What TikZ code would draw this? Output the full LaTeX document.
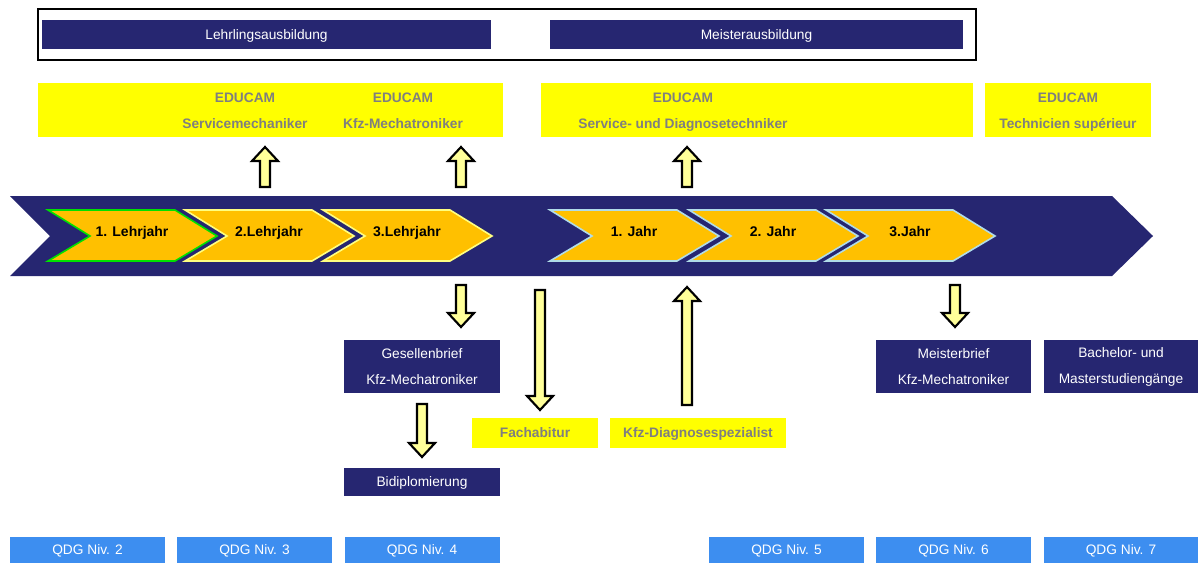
\documentclass[tikz,border=0pt]{standalone}
\usepackage{fontspec}
\setmainfont{Liberation Sans}
\usetikzlibrary{positioning}
\definecolor{navy}{HTML}{262671}
\definecolor{gelb}{HTML}{FFFF00}
\definecolor{jahrgold}{HTML}{FFC000}
\definecolor{pfeil}{HTML}{FFFF99}
\definecolor{qdgblau}{HTML}{3D8EF0}
\definecolor{grautext}{HTML}{7F7F7F}
\definecolor{randgelb}{HTML}{FFFF80}
\definecolor{randblau}{HTML}{B0DCE8}
\definecolor{randgruen}{HTML}{00E000}
\newcommand\blockarrow[3]{%
  \pgfmathsetmacro\hb{#3+ifthenelse(#2>#3,14,-14)}
  \draw[arrow block] (#1-5,#2) -- (#1+5,#2) -- (#1+5,\hb) -- (#1+13,\hb)
    -- (#1,#3) -- (#1-13,\hb) -- (#1-5,\hb) -- cycle;}
\newcommand\chevron[4]{%
  \draw[draw=#4,line width=1.2pt,fill=jahrgold] (#2,210) -- (#2+127,210)
    -- (#2+169,236) -- (#2+127,261) -- (#2,261) -- (#2+42,236) -- cycle;
  \node[year label] (#1) at (#2+84,231.5) {#3};}
\begin{document}
\begin{tikzpicture}[x=0.75pt,y=-0.75pt,font=\fontsize{10.3}{19.5}\selectfont,
    navy box/.style={rectangle,fill=navy,text=white,align=center,inner sep=0pt},
    yellow box/.style={rectangle,fill=gelb,inner sep=0pt},
    yellow text/.style={text=grautext,font=\fontsize{10.3}{19.5}\selectfont\bfseries,align=center},
    two lines/.style={text depth=2.5pt},
    one line/.style={text height=9.6pt,text depth=2.2pt},
    qdg box/.style={rectangle,fill=qdgblau,text=white,inner sep=0pt,one line,
                    minimum width=116.25pt,minimum height=19.5pt},
    arrow block/.style={draw=black,fill=pfeil,line width=1.6pt,line join=miter},
    year label/.style={font=\fontsize{10.5}{11}\selectfont\bfseries,text=black,one line}]
  \useasboundingbox (0,0) rectangle (1198,563);

  \draw[line width=1.5pt] (38,9) rectangle (976,60);
  \node[navy box,one line,minimum width=336.75pt,minimum height=21.75pt] (lehr) at (266.5,34.5) {Lehrlingsausbildung};
  \node[navy box,one line,minimum width=309.75pt,minimum height=21.75pt] (meister) at (756.5,34.5) {Meisterausbildung};

  \node[yellow box,minimum width=348.75pt,minimum height=40.5pt] (educamA) at (270.5,110) {};
  \node[yellow box,minimum width=324pt,minimum height=40.5pt] (educamB) at (757,110) {};
  \node[yellow box,minimum width=124.5pt,minimum height=40.5pt] (educamC) at (1068,110) {};
  \node[yellow text,two lines] (servmech) at (245,112.3) {EDUCAM\\Servicemechaniker};
  \node[yellow text,two lines] (kfzmech) at (403,112.3) {EDUCAM\\Kfz-Mechatroniker};
  \node[yellow text,two lines] (diagtech) at (683,112.3) {EDUCAM\\Service- und Diagnosetechniker};
  \node[yellow text,two lines] (techsup) at (1068,112.3) {EDUCAM\\Technicien supérieur};

  \blockarrow{265}{187}{147}
  \blockarrow{461}{187}{147}
  \blockarrow{687}{187}{147}

  \fill[navy] (10,196) -- (1112,196) -- (1153,236) -- (1112,276) -- (10,276) -- (50,236) -- cycle;
  \chevron{lj1}{48}{1. Lehrjahr}{randgruen}
  \chevron{lj2}{185}{2.Lehrjahr}{randgelb}
  \chevron{lj3}{323}{3.Lehrjahr}{randgelb}
  \chevron{mj1}{550}{1. Jahr}{randblau}
  \chevron{mj2}{689}{2. Jahr}{randblau}
  \chevron{mj3}{826}{3.Jahr}{randblau}

  \blockarrow{461}{285}{327}
  \blockarrow{540}{290}{410}
  \blockarrow{687}{405}{287}
  \blockarrow{955}{285}{327}
  \blockarrow{422}{404}{457}

  \node[navy box,minimum width=117pt,minimum height=39.75pt] (gesellen) at (422,366.5) {Gesellenbrief\\Kfz-Mechatroniker};
  \node[navy box,one line,minimum width=117pt,minimum height=21pt] (bidiplom) at (422,482) {Bidiplomierung};
  \node[yellow box,yellow text,one line,minimum width=94.5pt,minimum height=22.5pt] (fachabi) at (535,433) {Fachabitur};
  \node[yellow box,yellow text,one line,minimum width=132pt,minimum height=22.5pt] (diagspez) at (698,433) {Kfz-Diagnosespezialist};
  \node[navy box,minimum width=116.25pt,minimum height=39.75pt] (meisterbrief) at (953.5,366.5) {Meisterbrief\\Kfz-Mechatroniker};
  \node[navy box,minimum width=115.5pt,minimum height=39.75pt] (bachelor) at (1121,366.5) {Bachelor- und\\Masterstudiengänge};

  \node[qdg box] (qdg2) at (87.5,550) {QDG Niv. 2};
  \node[qdg box] (qdg3) at (254.5,550) {QDG Niv. 3};
  \node[qdg box] (qdg4) at (422,550) {QDG Niv. 4};
  \node[qdg box] (qdg5) at (786.5,550) {QDG Niv. 5};
  \node[qdg box] (qdg6) at (953.5,550) {QDG Niv. 6};
  \node[qdg box] (qdg7) at (1121,550) {QDG Niv. 7};
\end{tikzpicture}
\end{document}
